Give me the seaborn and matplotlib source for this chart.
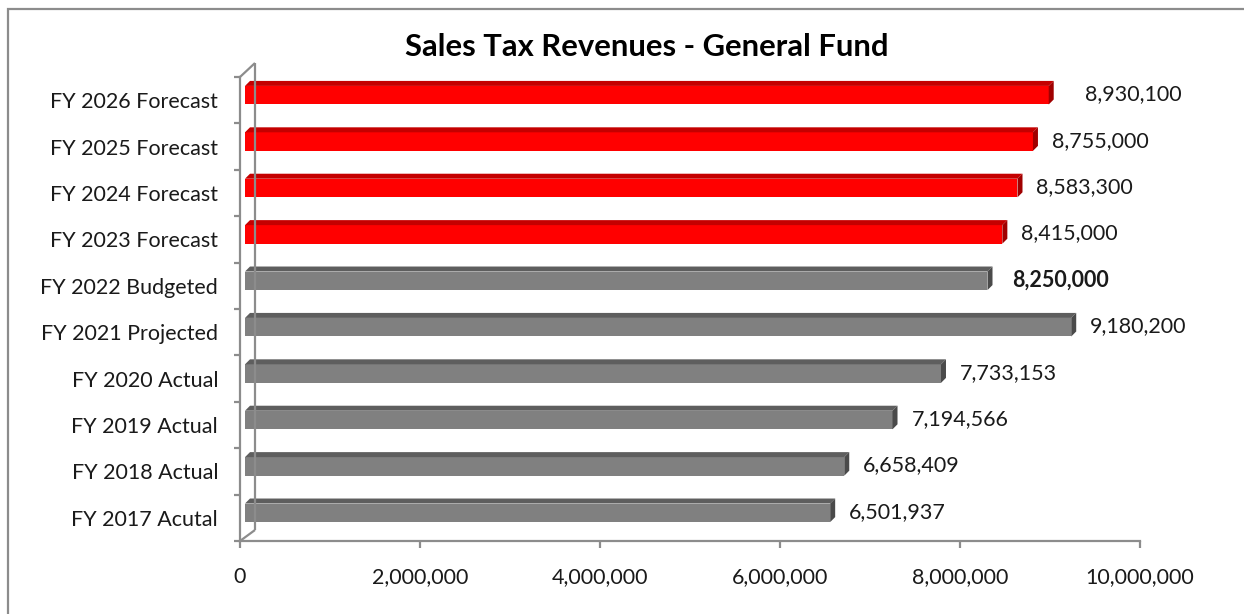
import matplotlib
matplotlib.use("Agg")
import matplotlib.pyplot as plt
import numpy as np
import pandas as pd
import seaborn as sns
from matplotlib.lines import Line2D
from matplotlib.patches import Polygon, Rectangle
from matplotlib.transforms import ScaledTranslation

# ---- data -----------------------------------------------------------------
categories = [
    "FY 2026 Forecast", "FY 2025 Forecast", "FY 2024 Forecast", "FY 2023 Forecast",
    "FY 2022 Budgeted", "FY 2021 Projected", "FY 2020 Actual", "FY 2019 Actual",
    "FY 2018 Actual", "FY 2017 Acutal",
]
revenues = [8930100, 8755000, 8583300, 8415000, 8250000,
            9180200, 7733153, 7194566, 6658409, 6501937]
status = ["Forecast"] * 4 + ["History"] * 6
x_ticks = [0, 2000000, 4000000, 6000000, 8000000, 10000000]
x_tick_labels = ["0", "2,000,000", "4,000,000", "6,000,000", "8,000,000", "10,000,000"]
title = "Sales Tax Revenues - General Fund"

df = pd.DataFrame({"category": categories, "revenue": revenues, "status": status})

# ---- styling --------------------------------------------------------------
W, H, DPI = 1244, 614, 100
sns.set_theme(style="white")
plt.rcParams["font.family"] = ["Lato", "DejaVu Sans"]

front_col = {"Forecast": "#FF0000", "History": "#808080"}
top_col = {"Forecast": "#C40000", "History": "#5E5E5E"}
side_col = {"Forecast": "#A00000", "History": "#4A4A4A"}
axis_grey = "#8C8C8C"
text_col = "#1a1a1a"
FONT = 15.5

fig = plt.figure(figsize=(W / DPI, H / DPI), dpi=DPI, facecolor="white")
ax_l, ax_r, ax_t, ax_b = 240, 1140, 77, 541
ax = fig.add_axes([ax_l / W, 1 - ax_b / H, (ax_r - ax_l) / W, (ax_b - ax_t) / H])

sns.barplot(data=df, x="revenue", y="category", hue="status", palette=front_col,
            orient="h", dodge=False, width=0.4, legend=False, saturation=1,
            linewidth=0, ax=ax)

ax.set_xlim(0, 10000000)
ax.set_ylim(len(categories) - 0.5, -0.5)
ax.set_xlabel("")
ax.set_ylabel("")

# axes frame: only floor and front wall edges
for s in ["top", "right"]:
    ax.spines[s].set_visible(False)
for s in ["left", "bottom"]:
    ax.spines[s].set_color(axis_grey)
    ax.spines[s].set_linewidth(1.6)

ax.set_xticks(x_ticks)
ax.set_xticklabels(x_tick_labels, fontsize=FONT, color=text_col)
ax.tick_params(axis="x", direction="out", length=5, width=1.6, color=axis_grey, pad=14,
               bottom=True)
ax.set_yticks(range(len(categories)))
ax.set_yticklabels(categories, fontsize=FONT, color=text_col)
ax.tick_params(axis="y", which="major", length=0, pad=15.8, left=True)
ax.set_yticks(np.arange(-0.5, len(categories), 1.0), minor=True)
ax.tick_params(axis="y", which="minor", direction="out", length=4.5, width=1.6,
               color=axis_grey, left=True)

# ---- 3-D look for the bars ------------------------------------------------
fig.canvas.draw()
px = 1.0 / DPI
front_shift = ScaledTranslation(5 * px, 5 * px, fig.dpi_scale_trans)
depth = 5  # pixels
inv = ax.transData.inverted()
bar_info = []
for p in list(ax.patches):
    x0, y0, w, h = p.get_x(), p.get_y(), p.get_width(), p.get_height()
    idx = int(round(y0 + h / 2))
    key = status[idx]
    p.set_transform(ax.transData + front_shift)
    (L, B), (R, T) = ax.transData.transform([(x0, y0 + h), (x0 + w, y0)])
    L, R, B, T = L + 5, R + 5, B + 5, T + 5
    top_face = [(L, T), (R, T), (R + depth, T + depth), (L + depth, T + depth)]
    side_face = [(R, B), (R, T), (R + depth, T + depth), (R + depth, B + depth)]
    for verts, col in ((top_face, top_col[key]), (side_face, side_col[key])):
        ax.add_patch(Polygon(inv.transform(verts), closed=True, facecolor=col,
                             edgecolor="none", clip_on=False, zorder=3))
    bar_info.append((idx, x0 + w))

# value labels beside each bar
label_nudge = {0: 17, 4: 6}
for idx, val in bar_info:
    weight = "bold" if categories[idx] == "FY 2022 Budgeted" else "normal"
    off = ScaledTranslation((24 + label_nudge.get(idx, 0)) * px, 6 * px, fig.dpi_scale_trans)
    ax.text(val, idx, f"{revenues[idx]:,}", transform=ax.transData + off,
            ha="left", va="center", fontsize=FONT, fontweight=weight,
            color=text_col, clip_on=False)

# back wall edges of the 3-D frame
def fig_line(xs, ys):
    fig.add_artist(Line2D([x / W for x in xs], [1 - y / H for y in ys],
                          transform=fig.transFigure, color=axis_grey, lw=1.6,
                          solid_capstyle="butt"))

fig_line([240, 255], [77, 63])
fig_line([255, 255], [63, 530])
fig_line([240, 255], [541, 530])

# chart title
fig.text(647 / W, 1 - 47 / H, title, ha="center", va="center",
         fontsize=22.3, fontweight="bold", color="black")

# outer chart border
fig.add_artist(Rectangle((8 / W, -0.05), 1.2, 1 - 9 / H + 0.05, transform=fig.transFigure,
                         fill=False, edgecolor=axis_grey, lw=1.6))

fig.savefig("out.png", dpi=DPI, facecolor="white")
